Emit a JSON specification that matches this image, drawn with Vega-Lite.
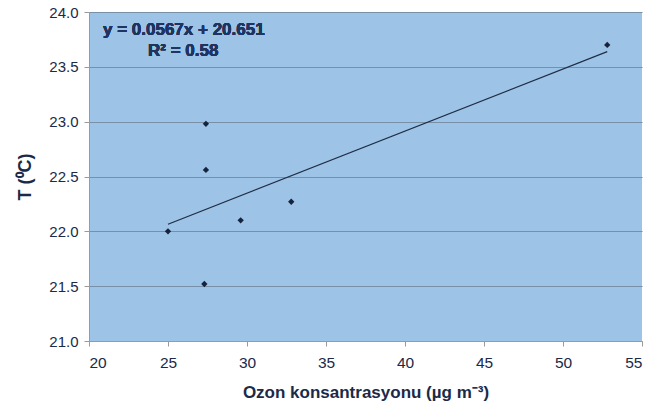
{
  "$schema": "https://vega.github.io/schema/vega-lite/v6.json",
  "width": 553,
  "height": 329,
  "autosize": "none",
  "padding": {"left": 89, "top": 12, "right": 25, "bottom": 65},
  "background": "white",
  "config": {
    "view": {"fill": "#9dc3e6", "stroke": null},
    "font": "Liberation Sans"
  },
  "data": {
    "values": [
      {"ozon": 25.0, "T": 22.0},
      {"ozon": 27.3, "T": 21.52},
      {"ozon": 27.4, "T": 22.56},
      {"ozon": 27.4, "T": 22.98},
      {"ozon": 29.6, "T": 22.1},
      {"ozon": 32.8, "T": 22.27},
      {"ozon": 52.8, "T": 23.7}
    ]
  },
  "layer": [
    {
      "mark": {"type": "text", "text": ["y = 0.0567x + 20.651"], "fontSize": 17, "fontWeight": "bold", "color": "#1f3460", "align": "left", "baseline": "middle", "x": 14, "y": 18},
      "encoding": {}
    },
    {
      "mark": {"type": "text", "text": ["R² = 0.58"], "fontSize": 17, "fontWeight": "bold", "color": "#1f3460", "align": "left", "baseline": "middle", "x": 59, "y": 39},
      "encoding": {}
    },
    {
      "transform": [{"regression": "T", "on": "ozon"}],
      "mark": {"type": "line", "color": "#1f2d45", "strokeWidth": 1.2},
      "encoding": {
        "x": {"field": "ozon", "type": "quantitative"},
        "y": {"field": "T", "type": "quantitative"}
      }
    },
    {
      "mark": {"type": "point", "shape": "diamond", "filled": true, "color": "#16233d", "size": 40, "opacity": 1},
      "encoding": {
        "x": {
          "field": "ozon", "type": "quantitative",
          "scale": {"domain": [20, 55], "nice": false, "zero": false},
          "axis": {
            "title": "Ozon konsantrasyonu (µg m⁻³)",
            "values": [20, 25, 30, 35, 40, 45, 50, 55],
            "grid": false,
            "domainColor": "#9a9a9a",
            "tickColor": "#9a9a9a",
            "tickSize": 5,
            "labelFontSize": 15.5,
            "labelColor": "#1a2a48",
            "labelPadding": 9,
            "titleFontSize": 17,
            "titleFontWeight": "bold",
            "titleColor": "#1a2a48",
            "titlePadding": 14
          }
        },
        "y": {
          "field": "T", "type": "quantitative",
          "scale": {"domain": [21, 24], "nice": false, "zero": false},
          "axis": {
            "title": "T (⁰C)",
            "values": [21, 21.5, 22, 22.5, 23, 23.5, 24],
            "format": ".1f",
            "grid": true,
            "gridColor": "#7790a8",
            "gridWidth": 1.2,
            "domainColor": "#9a9a9a",
            "tickColor": "#9a9a9a",
            "tickSize": 5,
            "labelFontSize": 15,
            "labelColor": "#1a2a48",
            "labelPadding": 6,
            "titleFontSize": 18,
            "titleFontWeight": "bold",
            "titleColor": "#1a2a48",
            "titlePadding": 14
          }
        }
      }
    }
  ]
}
